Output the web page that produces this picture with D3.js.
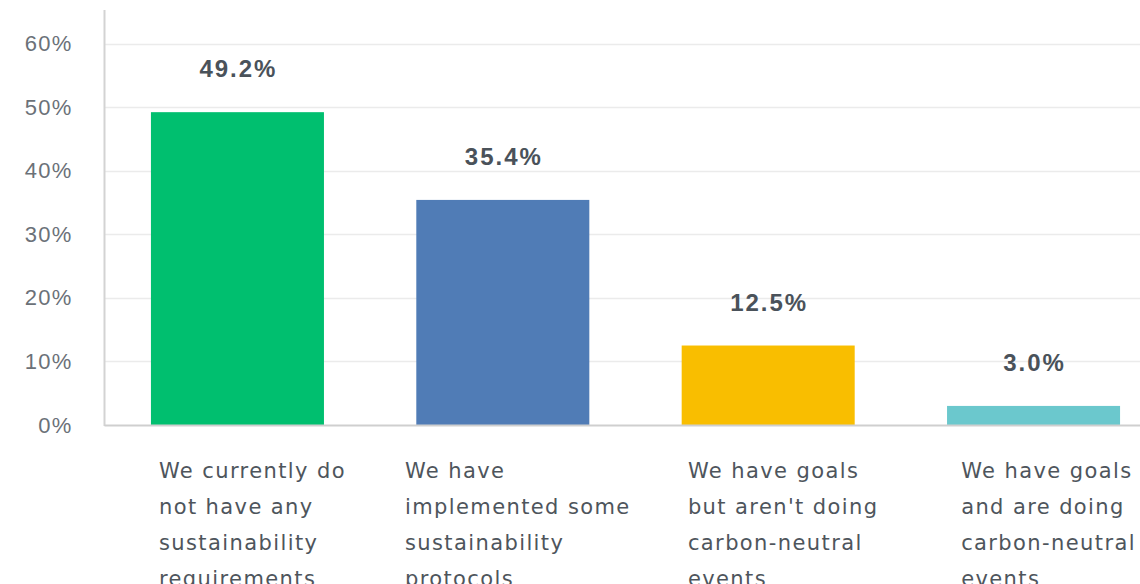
<!DOCTYPE html>
<html>
<head>
<meta charset="utf-8">
<script src="https://cdn.jsdelivr.net/npm/d3@7"></script>
<style>
  html, body { margin: 0; padding: 0; background: #fff; }
  svg { display: block; }
</style>
</head>
<body>
<svg id="chart" width="1140" height="584"></svg>
<script>
// Survey answers and their share of respondents (%)
const categories = [
  ["We currently do", "not have any", "sustainability", "requirements"],
  ["We have", "implemented some", "sustainability", "protocols"],
  ["We have goals", "but aren't doing", "carbon-neutral", "events"],
  ["We have goals", "and are doing", "carbon-neutral", "events"]
];
const values = [49.2, 35.4, 12.5, 3.0];
const colors = ["#00bf6f", "#507cb6", "#f9be00", "#6bc8cd"];
const yTicks = [0, 10, 20, 30, 40, 50, 60];

const svg = d3.select("#chart");
const plotLeft = 104.5, plotRight = 1166.5, plotTop = 10, baseline = 425;

const x = d3.scaleBand()
  .domain(d3.range(values.length))
  .range([plotLeft, plotRight])
  .paddingInner(0.348)
  .paddingOuter(0.175);

const y = d3.scaleLinear().domain([0, 60]).range([baseline, 43.5]);

// horizontal gridlines
svg.append("g")
  .selectAll("line")
  .data(yTicks.filter(d => d > 0))
  .join("line")
  .attr("x1", plotLeft).attr("x2", 1140)
  .attr("y1", d => Math.round(y(d)) + 0.5).attr("y2", d => Math.round(y(d)) + 0.5)
  .attr("stroke", "#ebebeb").attr("stroke-width", 1.5);

// y axis labels
const yAxis = d3.axisLeft(y)
  .tickValues(yTicks)
  .tickFormat(d => d + "%")
  .tickSize(0)
  .tickPadding(32);
const gy = svg.append("g").attr("transform", `translate(${plotLeft},0)`).call(yAxis);
gy.select(".domain").remove();
gy.selectAll("text")
  .attr("font-family", "Liberation Sans, Arial, sans-serif")
  .attr("font-size", 22)
  .attr("letter-spacing", 1.2)
  .attr("fill", "#6b7178");

// bars
svg.append("g")
  .selectAll("rect")
  .data(values)
  .join("rect")
  .attr("x", (d, i) => x(i))
  .attr("width", x.bandwidth())
  .attr("y", d => y(d))
  .attr("height", d => baseline - y(d))
  .attr("fill", (d, i) => colors[i]);

// axis lines
svg.append("line")
  .attr("x1", plotLeft).attr("x2", plotLeft)
  .attr("y1", plotTop).attr("y2", baseline + 1)
  .attr("stroke", "#d3d3d3").attr("stroke-width", 2);
svg.append("line")
  .attr("x1", plotLeft).attr("x2", 1140)
  .attr("y1", baseline + 0.5).attr("y2", baseline + 0.5)
  .attr("stroke", "#cfcfcf").attr("stroke-width", 2);

// value labels
svg.append("g")
  .selectAll("text")
  .data(values)
  .join("text")
  .attr("x", (d, i) => x(i) + x.bandwidth() / 2 + 1)
  .attr("y", d => y(d) - 35)
  .attr("text-anchor", "middle")
  .attr("font-family", "Liberation Sans, Arial, sans-serif")
  .attr("font-weight", "bold")
  .attr("font-size", 24)
  .attr("letter-spacing", 2)
  .attr("fill", "#4a525a")
  .text(d => d.toFixed(1) + "%");

// category labels: left-aligned blocks centred under each bar
const catG = svg.append("g")
  .selectAll("text")
  .data(categories)
  .join("text")
  .attr("font-family", "DejaVu Sans, sans-serif")
  .attr("font-size", 21)
  .attr("letter-spacing", 1.4)
  .attr("fill", "#4e555c");
catG.each(function(lines, i) {
  const t = d3.select(this);
  lines.forEach((line, j) => {
    t.append("tspan").attr("y", 478 + j * 36).text(line);
  });
  let w = 0;
  t.selectAll("tspan").each(function() { w = Math.max(w, this.getComputedTextLength()); });
  const x0 = x(i) + x.bandwidth() / 2 + 15 - w / 2;
  t.selectAll("tspan").attr("x", x0);
});
</script>
</body>
</html>
